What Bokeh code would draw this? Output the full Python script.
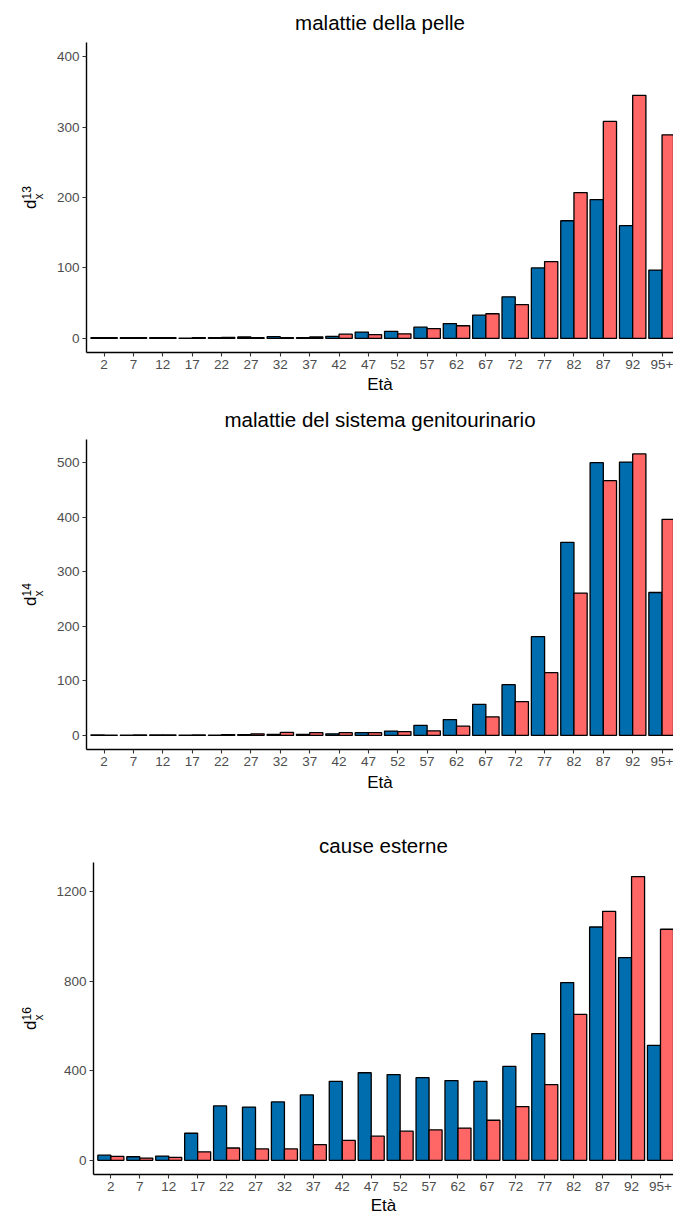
import numpy as np
from bokeh.plotting import figure
from bokeh.models import Range1d, FixedTicker, ColumnDataSource, Title
from bokeh.layouts import column, row
from bokeh.core.properties import value
from bokeh.embed import file_html
from bokeh.resources import INLINE

# ---------------- data ----------------
eta = ["2", "7", "12", "17", "22", "27", "32", "37", "42", "47",
       "52", "57", "62", "67", "72", "77", "82", "87", "92", "95+"]

pelle_m = [1, 1, 1, 0.5, 1, 2, 2.5, 1, 3, 9, 10, 16, 21, 33, 59, 100, 167, 197, 160, 97]
pelle_f = [1, 1, 1, 1, 1.5, 1, 1, 2, 6, 5.5, 6.5, 14, 18, 35, 48, 109, 207, 308, 345, 289]

genito_m = [1, 0.5, 1, 0.5, 0.5, 1.5, 2, 2, 3, 5, 8, 18.5, 29, 57, 93, 181, 354, 500, 501, 262]
genito_f = [0.5, 1, 1, 1, 1.5, 3, 5.5, 5, 5, 5, 7, 8.5, 17, 34, 62, 115, 261, 467, 516, 396]

esterne_m = [23, 16, 19, 121, 243, 238, 261, 292, 353, 391,
             383, 369, 356, 353, 420, 566, 794, 1042, 905, 513]
esterne_f = [17.5, 10, 13, 38, 55, 51, 51, 70, 89, 108,
             130, 136, 144, 179, 240, 338, 652, 1112, 1267, 1032]

titoli = ["malattie della pelle", "malattie del sistema genitourinario", "cause esterne"]
apici = ["13", "14", "16"]
yticks_list = [[0, 100, 200, 300, 400], [0, 100, 200, 300, 400, 500], [0, 400, 800, 1200]]

BLUE = "#006DAE"
RED = "#FF6666"
FONT = "Liberation Sans"
W = 673
AXW = 40  # width reserved for the y axis ticks/labels inside main figure


def panel(title, sup, vm, vf, yticks, ylo, yhi, height, left, top, bottom,
          xend, title_standoff, xlab_standoff):
    fh = height - top - bottom
    lw = left - AXW
    # ---- narrow figure holding the y-axis title d_x^NN ----
    lab = figure(width=lw, height=height, output_backend="svg", toolbar_location=None,
                 x_range=Range1d(0, lw), y_range=Range1d(0, fh),
                 min_border_left=0, min_border_right=0,
                 min_border_top=top, min_border_bottom=bottom)
    lab.axis.visible = False
    lab.grid.visible = False
    lab.outline_line_color = None
    yd = fh / 2 - 11.4
    lab.text(x=[30], y=[yd], text=["d"], angle=np.pi / 2, text_font=value(FONT),
             text_font_size="17px", text_color="black",
             text_align="left", text_baseline="alphabetic")
    lab.text(x=[38], y=[yd + 9.5], text=["x"], angle=np.pi / 2, text_font=value(FONT),
             text_font_size="12px", text_color="black",
             text_align="left", text_baseline="alphabetic")
    lab.text(x=[25.5], y=[yd + 9.5], text=[sup], angle=np.pi / 2, text_font=value(FONT),
             text_font_size="12px", text_color="black",
             text_align="left", text_baseline="alphabetic")

    # ---- main bar figure ----
    p = figure(width=W - lw, height=height, output_backend="svg", toolbar_location=None,
               x_range=Range1d(0.4, xend), y_range=Range1d(ylo, yhi),
               min_border_left=AXW, min_border_right=0,
               min_border_top=top, min_border_bottom=bottom, title=None)
    pos = np.arange(1, len(eta) + 1)
    src = ColumnDataSource(dict(xm=pos - 0.225, xf=pos + 0.225, m=vm, f=vf))
    p.vbar(x="xm", top="m", bottom=0, width=0.45, source=src,
           fill_color=BLUE, line_color="black", line_width=1.3)
    p.vbar(x="xf", top="f", bottom=0, width=0.45, source=src,
           fill_color=RED, line_color="black", line_width=1.3)

    p.xgrid.visible = False
    p.ygrid.visible = False
    p.outline_line_color = None

    p.xaxis.ticker = FixedTicker(ticks=list(pos))
    p.xaxis.major_label_overrides = {int(i): lab_ for i, lab_ in zip(pos, eta)}
    p.yaxis.ticker = FixedTicker(ticks=yticks)
    for ax in (p.xaxis, p.yaxis):
        ax.axis_line_color = "black"
        ax.axis_line_width = 1.4
        ax.major_tick_line_color = "#333333"
        ax.major_tick_line_width = 1.1
        ax.major_tick_out = 4
        ax.major_tick_in = 0
        ax.minor_tick_line_color = None
        ax.major_label_text_font = FONT
        ax.major_label_text_font_size = "13.5px"
        ax.major_label_text_color = "#4D4D4D"
        ax.major_label_standoff = 3
    p.xaxis.axis_label = "Età"
    p.xaxis.axis_label_text_font = FONT
    p.xaxis.axis_label_text_font_size = "17px"
    p.xaxis.axis_label_text_font_style = "normal"
    p.xaxis.axis_label_text_color = "black"
    p.xaxis.axis_label_standoff = xlab_standoff

    fw = W - left
    unit = fw / (xend - 0.4)
    off = 20.2 * unit / 2 - fw / 2
    t = Title(text=title, align="center", offset=off, standoff=title_standoff,
              text_font=FONT, text_font_size="20.5px", text_font_style="normal",
              text_color="black")
    p.add_layout(t, "above")
    return row(lab, p, spacing=0)


r1 = panel(titoli[0], apici[0], pelle_m, pelle_f, yticks_list[0], -20, 420,
           height=397, left=86, top=42, bottom=45, xend=20.39,
           title_standoff=17, xlab_standoff=3)
r2 = panel(titoli[1], apici[1], genito_m, genito_f, yticks_list[1], -25.8, 542.4,
           height=398, left=86, top=42, bottom=46, xend=20.39,
           title_standoff=17, xlab_standoff=4)
r3 = panel(titoli[2], apici[2], esterne_m, esterne_f, yticks_list[2], -63.3, 1330,
           height=423, left=93, top=67, bottom=44, xend=20.45,
           title_standoff=12, xlab_standoff=2)

layout = column(r1, r2, r3, spacing=0)
open("out.html", "w").write(file_html(layout, INLINE))
